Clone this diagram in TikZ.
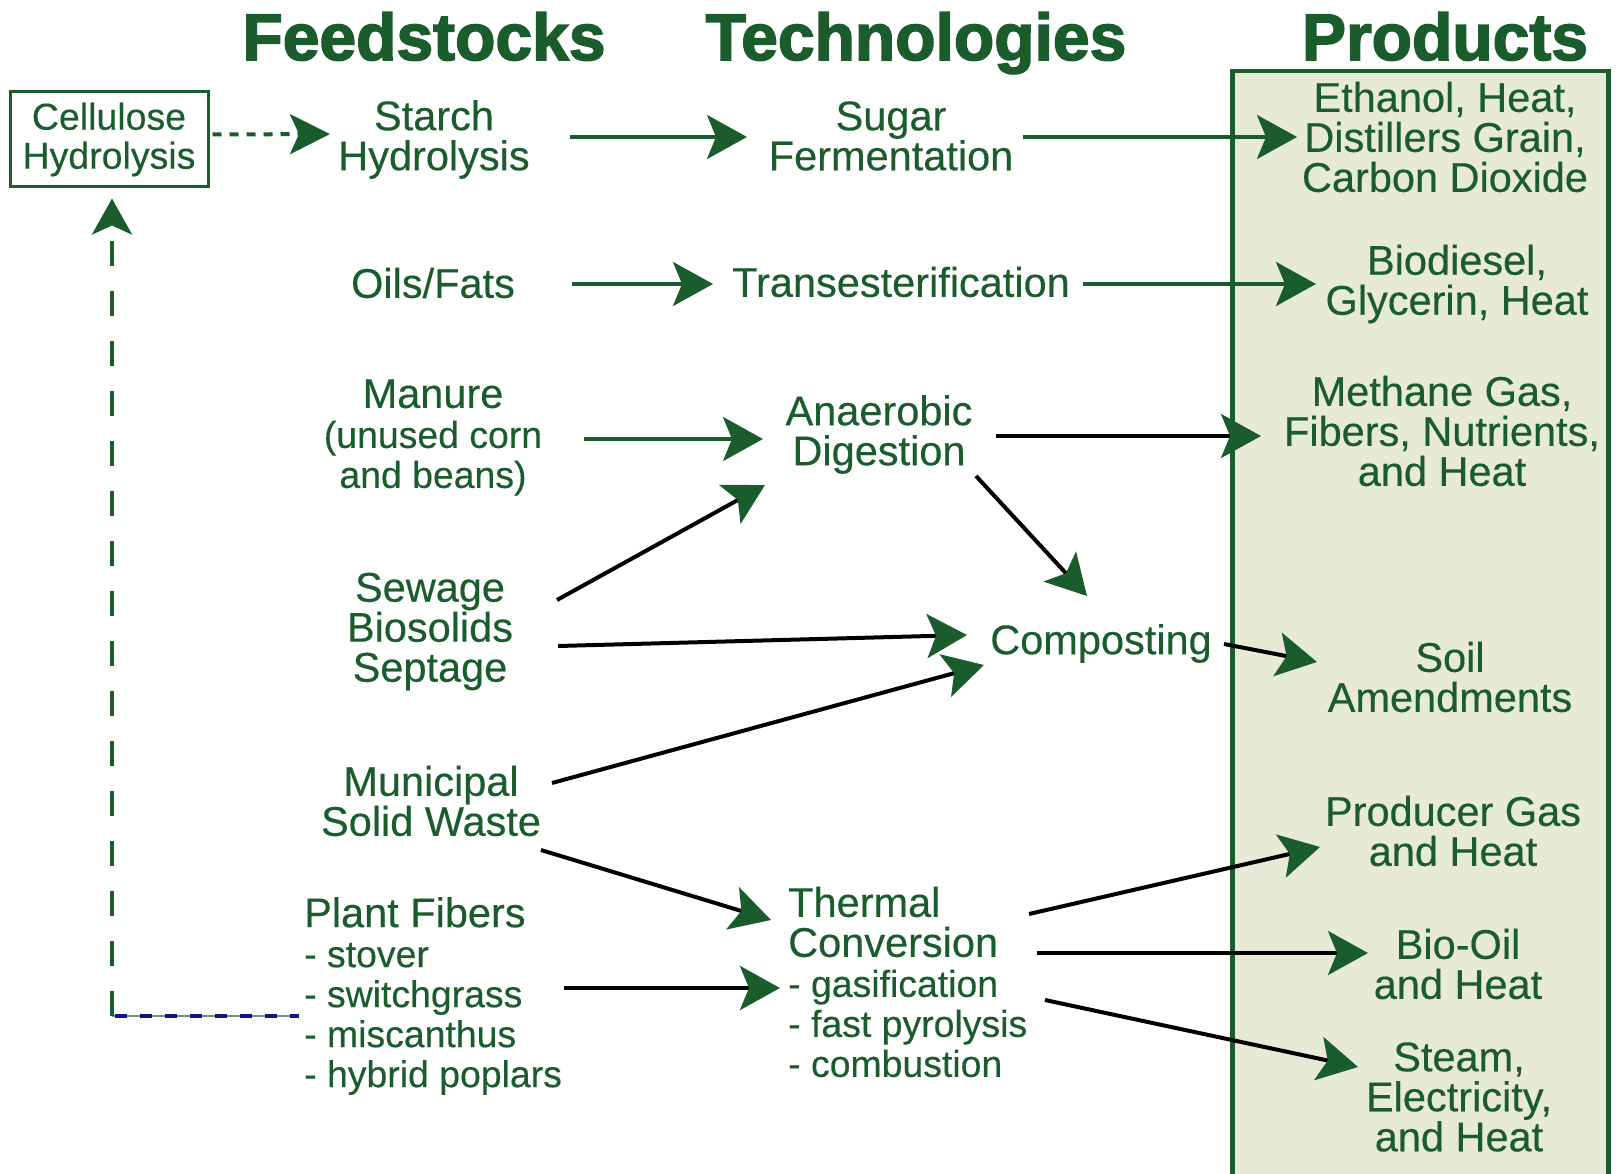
\documentclass[tikz,border=0pt]{standalone}
\usepackage{fontspec}
\setmainfont{Liberation Sans}[FakeBold=0.3]
\newfontfamily\headfont{Liberation Sans Bold}[FakeBold=2.4]
\usetikzlibrary{arrows.meta}

\definecolor{tgreen}{RGB}{27,92,45}
\definecolor{prodfill}{RGB}{230,234,214}
\definecolor{navydash}{RGB}{20,20,130}
\definecolor{thinline}{RGB}{110,150,120}

\newcommand\bodyfont{\fontsize{41.5}{40}\selectfont}
\newcommand\listfont{\fontsize{37.4}{40}\selectfont}

\begin{document}
\begin{tikzpicture}[x=1pt,y=-1pt,
  lbl/.style={text=tgreen, align=center, inner sep=0pt, font=\bodyfont},
  headline/.style={text=tgreen, inner sep=0pt, anchor=base, font=\headfont\fontsize{66}{66}\selectfont},
  headtip/.style={-{Stealth[length=40pt,width=44pt,inset=9pt,color=tgreen]}},
  garrow/.style={draw=tgreen, line width=3.5pt, headtip},
  karrow/.style={draw=black, line width=4pt, headtip},
]
\useasboundingbox (0,0) rectangle (1616,1174);

% products panel
\node[draw=tgreen, fill=prodfill, line width=4.5pt, anchor=north west,
      minimum width=376pt, minimum height=1110pt, inner sep=0pt] (prodbox) at (1230,69) {};

% column headings
\node[headline] (hfeed) at (424,60) {Feedstocks};
\node[headline] (htech) at (916,60) {Technologies};
\node[headline] (hprod) at (1445,60) {Products};

% feedstocks
\node[draw=tgreen, line width=3pt, minimum width=198pt, minimum height=95pt,
      align=center, inner sep=0pt, text=tgreen, font=\fontsize{37.5}{39}\selectfont]
      (cell) at (109,139.5) {Cellulose\\Hydrolysis};
\node[lbl] (starch) at (434,139.5) {Starch\\Hydrolysis};
\node[lbl] (oils) at (433,283) {Oils/Fats};
\node[lbl] (manure) at (433,437.5) {Manure\\{\listfont (unused corn}\\{\listfont and beans)}};
\node[lbl] (sewage) at (430,631.5) {Sewage\\Biosolids\\Septage};
\node[lbl] (msw) at (431,801) {Municipal\\Solid Waste};
\node[lbl, align=left, anchor=west] (plant) at (304,996)
  {Plant Fibers\\{\listfont - stover}\\{\listfont - switchgrass}\\{\listfont - miscanthus}\\{\listfont - hybrid poplars}};

% technologies
\node[lbl] (sugar) at (891,136) {Sugar\\Fermentation};
\node[lbl] (trans) at (901,282) {Transesterification};
\node[lbl] (anaerobic) at (879,434.5) {Anaerobic\\Digestion};
\node[lbl] (compost) at (1101,643.5) {Composting};
\node[lbl, align=left, anchor=west] (thermal) at (788,982)
  {Thermal\\Conversion\\{\listfont - gasification}\\{\listfont - fast pyrolysis}\\{\listfont - combustion}};

% products
\node[lbl] (ethanol) at (1445,137) {Ethanol, Heat,\\Distillers Grain,\\Carbon Dioxide};
\node[lbl] (biodiesel) at (1457,284) {Biodiesel,\\Glycerin, Heat};
\node[lbl] (methane) at (1442,431) {Methane Gas,\\Fibers, Nutrients,\\and Heat};
\node[lbl] (soil) at (1450,677) {Soil\\Amendments};
\node[lbl] (producer) at (1453,831) {Producer Gas\\and Heat};
\node[lbl] (biooil) at (1458,964) {Bio-Oil\\and Heat};
\node[lbl] (steam) at (1459,1097) {Steam,\\Electricity,\\and Heat};

% cellulose feedback loop
\coordinate (corner) at ([shift={(-192,20)}]plant.west);
\draw[thinline, line width=1.5pt] (corner) -- ([shift={(-5,20)}]plant.west);
\draw[navydash, line width=4pt, dash pattern=on 12pt off 13pt, dash phase=-3pt]
  (corner) -- ([shift={(-5,20)}]plant.west);
\draw[tgreen, line width=4pt, dash pattern=on 25pt off 25pt,
      -{Stealth[length=36pt,width=40pt,inset=9pt,color=tgreen]}]
  (corner) -- ([shift={(3,10)}]cell.south);
\draw[tgreen, line width=4pt, dash pattern=on 9pt off 8pt,
      -{Stealth[length=40pt,width=40pt,inset=9pt,color=tgreen]}]
  ([shift={(3,-5)}]cell.east) -- ([shift={(-104,-5.5)}]starch.center);

% green connectors
\draw[garrow] ([shift={(136,-2.5)}]starch.center) -- ([shift={(-144,1)}]sugar.center);
\draw[garrow] ([shift={(132,1)}]sugar.center) -- ([shift={(-148,0)}]ethanol.center);
\draw[garrow] ([shift={(139,1)}]oils.center) -- ([shift={(-188,2)}]trans.center);
\draw[garrow] ([shift={(182,2)}]trans.center) -- ([shift={(-141,0)}]biodiesel.center);
\draw[garrow] ([shift={(151,1.5)}]manure.center) -- ([shift={(-116,4.5)}]anaerobic.center);

% black connectors
\draw[karrow] ([shift={(117,1.5)}]anaerobic.center) -- ([shift={(-181,5)}]methane.center);
\draw[karrow] ([shift={(97,41.5)}]anaerobic.center) -- ([shift={(-14,-47.5)}]compost.center);
\draw[karrow] ([shift={(127,-31.5)}]sewage.center) -- ([shift={(-114,50.5)}]anaerobic.center);
\draw[karrow] ([shift={(128,14.5)}]sewage.center) -- ([shift={(-134,-8.5)}]compost.center);
\draw[karrow] ([shift={(121,-18)}]msw.center) -- ([shift={(-117,21.5)}]compost.center);
\draw[karrow] ([shift={(110,49)}]msw.center) -- ([shift={(-17,-62)}]thermal.west);
\draw[karrow] ([shift={(260,-8)}]plant.west) -- ([shift={(-8,6)}]thermal.west);
\draw[karrow] ([shift={(123,0.5)}]compost.center) -- ([shift={(-133,-15)}]soil.center);
\draw[karrow] ([shift={(241,-68)}]thermal.west) -- ([shift={(-133,16)}]producer.center);
\draw[karrow] ([shift={(249,-29)}]thermal.west) -- ([shift={(-90,-11)}]biooil.center);
\draw[karrow] ([shift={(257,18)}]thermal.west) -- ([shift={(-101,-30)}]steam.center);
\end{tikzpicture}
\end{document}
